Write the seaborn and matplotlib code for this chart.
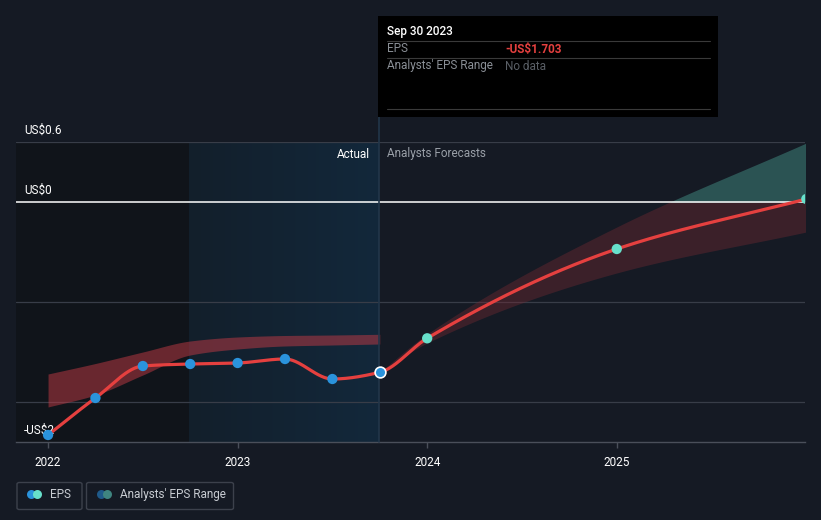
import numpy as np
import matplotlib
matplotlib.use("Agg")
import matplotlib.pyplot as plt
from matplotlib.patches import Rectangle, FancyBboxPatch, Ellipse
import seaborn as sns

# ---- data (decimal years, US$ EPS) ----
eps_dates = [2022.0, 2022.25, 2022.5, 2022.75, 2023.0, 2023.25, 2023.5, 2023.75]
eps_values = [-2.33, -1.96, -1.64, -1.62, -1.61, -1.57, -1.77, -1.703]

past_range_low = [-2.05, -1.93, -1.73, -1.53, -1.47, -1.44, -1.43, -1.42]
past_range_high = [-1.72, -1.615, -1.50, -1.39, -1.35, -1.335, -1.33, -1.323]

fc_dates = [2023.75, 2024.0, 2025.0, 2026.0]
fc_values = [-1.703, -1.363, -0.47, 0.03]
fc_low = [-1.703, -1.41, -0.71, -0.30]
fc_high = [-1.703, -1.32, -0.25, 0.59]

year_ticks = [2022, 2023, 2024, 2025]

BG = "#151a24"
RED = "#e5403f"
BLUE = "#2a93dc"
TEAL = "#67e0cb"


def pchip(x, y, xs):
    # monotone cubic, only used to draw smooth curves through the points
    x = np.asarray(x, float)
    y = np.asarray(y, float)
    h = np.diff(x)
    d = np.diff(y) / h
    m = np.zeros_like(y)
    for k in range(1, len(y) - 1):
        if d[k - 1] * d[k] > 0:
            w1 = 2 * h[k] + h[k - 1]
            w2 = h[k] + 2 * h[k - 1]
            m[k] = (w1 + w2) / (w1 / d[k - 1] + w2 / d[k])
    m[0] = d[0]
    m[-1] = d[-1]
    idx = np.clip(np.searchsorted(x, xs) - 1, 0, len(x) - 2)
    t = (xs - x[idx]) / h[idx]
    h00 = 2 * t**3 - 3 * t**2 + 1
    h10 = t**3 - 2 * t**2 + t
    h01 = -2 * t**3 + 3 * t**2
    h11 = t**3 - t**2
    return h00 * y[idx] + h10 * h[idx] * m[idx] + h01 * y[idx + 1] + h11 * h[idx] * m[idx + 1]


sns.set_theme(style="dark")
plt.rcParams["font.family"] = ["Roboto", "DejaVu Sans"]

fig = plt.figure(figsize=(8.21, 5.2), dpi=100, facecolor=BG)
W, H = 821, 520
ax = fig.add_axes([16 / W, (H - 442) / H, (805 - 16) / W, (442 - 142) / H])
ax.set_facecolor(BG)
ax.set_xlim(2021.831, 2025.993)
ax.set_ylim(-2.4, 0.6)

# shaded regions: dark past, blue "last year" gradient
ax.axvspan(2021.831, 2022.744, color="#0f1217", alpha=0.75, lw=0, zorder=0)
grad = np.linspace(0, 1, 256).reshape(1, -1)
cmap = matplotlib.colors.LinearSegmentedColormap.from_list(
    "actual", ["#131f2b", "#12283b"])
ax.imshow(grad, extent=[2022.744, 2023.745, -2.4, 0.6], aspect="auto",
          cmap=cmap, zorder=0, interpolation="bilinear")

# grid
for gy in [0.6, -1, -2]:
    ax.axhline(gy, color="#383d48", lw=0.9, zorder=1)
ax.axhline(0, color="white", lw=1.1, zorder=3)

# past analyst range
xs_past = np.linspace(eps_dates[0], eps_dates[-1], 200)
ax.fill_between(xs_past, pchip(eps_dates, past_range_low, xs_past),
                pchip(eps_dates, past_range_high, xs_past),
                color="#c23a45", alpha=0.5, lw=0, zorder=2)

# forecast range, split at zero
xs_fc = np.linspace(fc_dates[0], fc_dates[-1], 300)
lo = pchip(fc_dates, fc_low, xs_fc)
hi = pchip(fc_dates, fc_high, xs_fc)
ax.fill_between(xs_fc, lo, np.minimum(hi, 0), where=lo < 0,
                color="#7a2a33", alpha=0.38, lw=0, zorder=2)
ax.fill_between(xs_fc, np.maximum(lo, 0), hi, where=hi > 0,
                color="#3b7a74", alpha=0.6, lw=0, zorder=2)

# EPS line
all_dates = eps_dates + fc_dates[1:]
all_vals = eps_values + fc_values[1:]
xs_all = np.linspace(all_dates[0], all_dates[-1], 500)
sns.lineplot(x=xs_all, y=pchip(all_dates, all_vals, xs_all), color=RED,
             lw=2.3, ax=ax, zorder=4)

sns.scatterplot(x=eps_dates[:-1], y=eps_values[:-1], color=BLUE, s=55,
                edgecolor="none", ax=ax, zorder=5)
sns.scatterplot(x=eps_dates[-1:], y=eps_values[-1:], color=BLUE, s=60,
                edgecolor="white", linewidth=1.2, ax=ax, zorder=5)
sns.scatterplot(x=fc_dates[1:], y=fc_values[1:], color=TEAL, s=55,
                edgecolor="none", ax=ax, zorder=5)

# tooltip connector
ax.plot([2023.745, 2023.745], [-2.4, 0.85], color="#22364a", lw=1.2,
        clip_on=False, zorder=3)

# axes styling
for s in ["top", "left", "right"]:
    ax.spines[s].set_visible(False)
ax.spines["bottom"].set_color("#4a4f5a")
ax.spines["bottom"].set_linewidth(1)
ax.set_yticks([])
ax.set_xticks(year_ticks)
ax.set_xticklabels([str(y) for y in year_ticks])
ax.tick_params(axis="x", colors="#4a4f5a", length=4, width=1, pad=6,
               labelcolor="white", labelsize=8.5, bottom=True)
ax.grid(False)

# y labels drawn as text
ax.text(2021.873, 0.72, "US$0.6", color="white", fontsize=8.5, va="center",
        ha="left")
ax.text(2021.873, 0.12, "US$0", color="white", fontsize=8.5, va="center",
        ha="left")
ax.text(2021.873, -2.28, "-US$2", color="white", fontsize=8.5, va="center",
        ha="left", zorder=4)

ax.text(2023.70, 0.48, "Actual", color="white", fontsize=8.5, ha="right",
        va="center")
ax.text(2023.787, 0.48, "Analysts Forecasts", color="#9aa0a8", fontsize=8.5,
        ha="left", va="center")

# tooltip box
tf = fig.transFigure
fig.patches.append(Rectangle((378 / W, 1 - 117 / H), 340 / W, 101 / H,
                             transform=tf, facecolor="black",
                             edgecolor="none", lw=0, zorder=10))
for ly in [41, 58, 109]:
    fig.lines.append(plt.Line2D([387 / W, 710 / W], [1 - ly / H, 1 - ly / H],
                                transform=tf, color="#3a3a3a", lw=0.8, zorder=11))
fig.text(387 / W, 1 - 31 / H, "Sep 30 2023", color="white", fontsize=8.5,
         fontweight="medium", va="center", zorder=12)
fig.text(387 / W, 1 - 49 / H, "EPS", color="#8a8f96", fontsize=8.5,
         va="center", zorder=12)
fig.text(505 / W, 1 - 49 / H, "-US$1.703", color="#e5403f", fontsize=8.5,
         fontweight="bold", va="center", zorder=12)
fig.text(387 / W, 1 - 66 / H, "Analysts' EPS Range", color="#8a8f96",
         fontsize=8.5, va="center", zorder=12)
fig.text(505 / W, 1 - 66 / H, "No data", color="#5a5f66", fontsize=8.5,
         va="center", zorder=12)

# legend buttons: (label, box left, box width, circle x's, text x, colours)
legend_items = [
    ("EPS", 17, 65, 31.5, 37.5, 50, BLUE, TEAL),
    ("Analysts' EPS Range", 86.5, 147, 101.5, 107.5, 120, "#1f5a8a", "#3f8580"),
]
for label, x0, w, cx1, cx2, tx, c1, c2 in legend_items:
    fig.patches.append(FancyBboxPatch((x0 / W, 1 - 509.5 / H), w / W, 27 / H,
                                      boxstyle="round,pad=0,rounding_size=0.003",
                                      transform=tf, facecolor="none",
                                      edgecolor="#3c414c", lw=1))
    cy = 1 - 494.5 / H
    fig.patches.append(Ellipse((cx1 / W, cy), 9 / W, 9 / H, transform=tf,
                               facecolor=c1, edgecolor="none"))
    fig.patches.append(Ellipse((cx2 / W, cy), 9 / W, 9 / H, transform=tf,
                               facecolor=c2, edgecolor="none"))
    fig.text(tx / W, cy, label, color="#c8ccd2", fontsize=8.5,
             va="center", ha="left")

fig.savefig("out.png", dpi=100, facecolor=BG)
